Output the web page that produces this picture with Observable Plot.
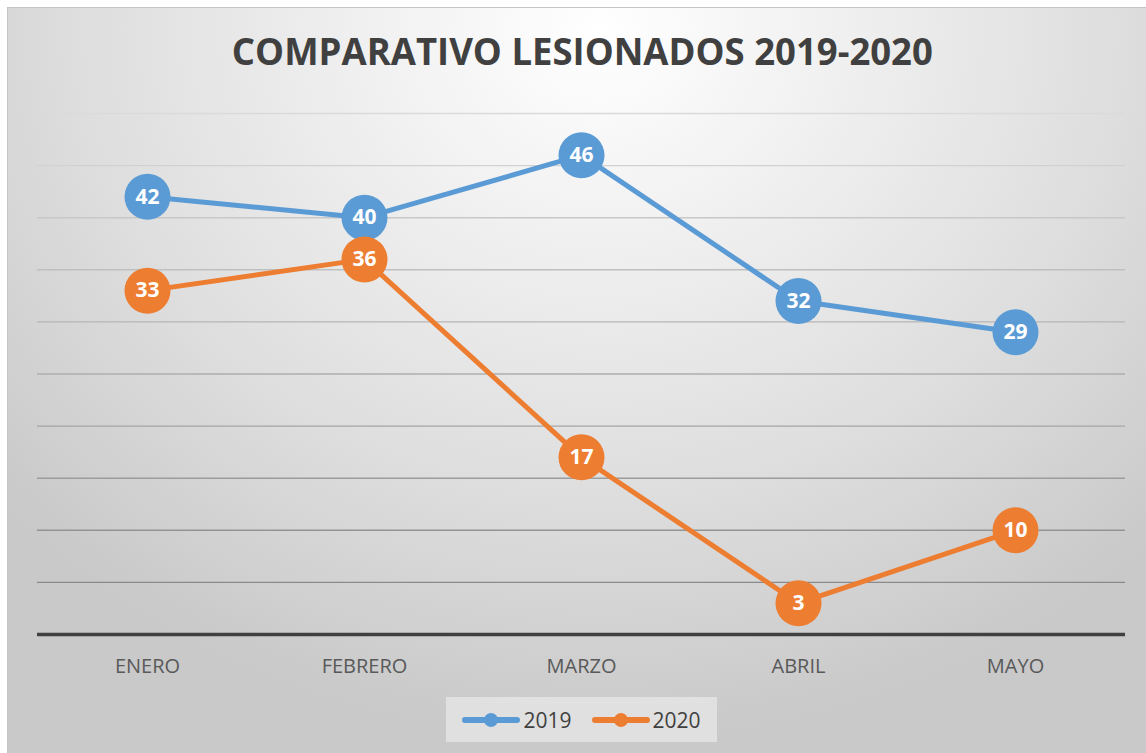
<!DOCTYPE html>
<html>
<head>
<meta charset="utf-8">
<script src="https://cdn.jsdelivr.net/npm/d3@7"></script>
<script src="https://cdn.jsdelivr.net/npm/@observablehq/plot@0.6"></script>
<style>
  html, body { margin: 0; padding: 0; background: #fff; }
  #page { position: relative; width: 1146px; height: 753px; overflow: hidden; font-family: "Open Sans", sans-serif; }
  #bg { position: absolute; left: 7px; top: 7px; right: 0; bottom: 0;
        border-top: 1px solid #c4c4c4; border-left: 1px solid #c4c4c4;
        background: radial-gradient(ellipse 70% 95% at 52% 3%, #ffffff 0%, #f0f0f0 30%, #dedede 65%, #c9c9c9 100%); }
  #title { position: relative; height: 100px; box-sizing: border-box; padding-left: 19px; padding-top: 26px;
           text-align: center; font-size: 37px; font-weight: 700; color: #404040; line-height: 50px; white-space: nowrap; }
  #title span { display: inline-block; }
  #chart { position: relative; height: 590px; }
  #chart svg { display: block; }
  #legend { position: relative; margin-left: 446px; margin-top: 7px; width: 271px; height: 45px;
            background: rgba(228,228,228,0.85); display: flex; align-items: center; justify-content: center; gap: 20px;
            font-size: 21px; color: #404040; }
  .item { display: flex; align-items: center; gap: 3px; }
</style>
</head>
<body>
<div id="page">
  <div id="bg"></div>
  <div id="title"><span id="titletext">COMPARATIVO LESIONADOS 2019-2020</span></div>
  <div id="chart"></div>
  <div id="legend"></div>
</div>
<script>
const months = ["ENERO", "FEBRERO", "MARZO", "ABRIL", "MAYO"];
const series = ["2019", "2020"];
const values2019 = [42, 40, 46, 32, 29];
const values2020 = [33, 36, 17, 3, 10];
const gridTicks = [5, 10, 15, 20, 25, 30, 35, 40, 45, 50];
const colors = ["#5B9BD5", "#ED7D31"];

const data = months.flatMap((m, i) => [
  {month: m, year: series[0], value: values2019[i]},
  {month: m, year: series[1], value: values2020[i]}
]);

const gridColor = d3.interpolateRgb("#8a8a8a", "#dadada");

const chart = Plot.plot({
  width: 1146,
  height: 590,
  marginTop: 13,
  marginBottom: 56,
  marginLeft: 37,
  marginRight: 21,
  style: {background: "transparent", overflow: "visible", fontFamily: "Open Sans, sans-serif"},
  x: {domain: months, type: "point", padding: 0.5, label: null},
  y: {domain: [0, 50], axis: null},
  color: {domain: series, range: colors},
  marks: [
    Plot.ruleY(gridTicks, {stroke: d => gridColor((d - 5) / 45), strokeWidth: 1.4}),
    Plot.ruleY([0], {stroke: "#404040", strokeWidth: 3.5}),
    Plot.line(data, {x: "month", y: "value", z: "year", stroke: "year", strokeWidth: 5}),
    Plot.dot(data, {x: "month", y: "value", fill: "year", r: 23}),
    Plot.text(data, {x: "month", y: "value", text: d => String(d.value), fill: "white", fontWeight: "bold", fontSize: 21}),
    Plot.axisX({tickSize: 0, tickPadding: 24, fontSize: 20, color: "#595959", label: null})
  ]
});
document.getElementById("chart").appendChild(chart);

// legend
const legend = d3.select("#legend");
series.forEach((s, i) => {
  const item = legend.append("div").attr("class", "item");
  const sv = item.append("svg").attr("width", 58).attr("height", 20);
  sv.append("line").attr("x1", 3).attr("x2", 55).attr("y1", 10).attr("y2", 10)
    .attr("stroke", colors[i]).attr("stroke-width", 6).attr("stroke-linecap", "round");
  sv.append("circle").attr("cx", 29).attr("cy", 10).attr("r", 7).attr("fill", colors[i]);
  item.append("span").text(s);
});

// fit title width to reference
const t = document.getElementById("titletext");
const w = t.getBoundingClientRect().width;
t.style.transform = `scaleX(${701 / w})`;
</script>
</body>
</html>
